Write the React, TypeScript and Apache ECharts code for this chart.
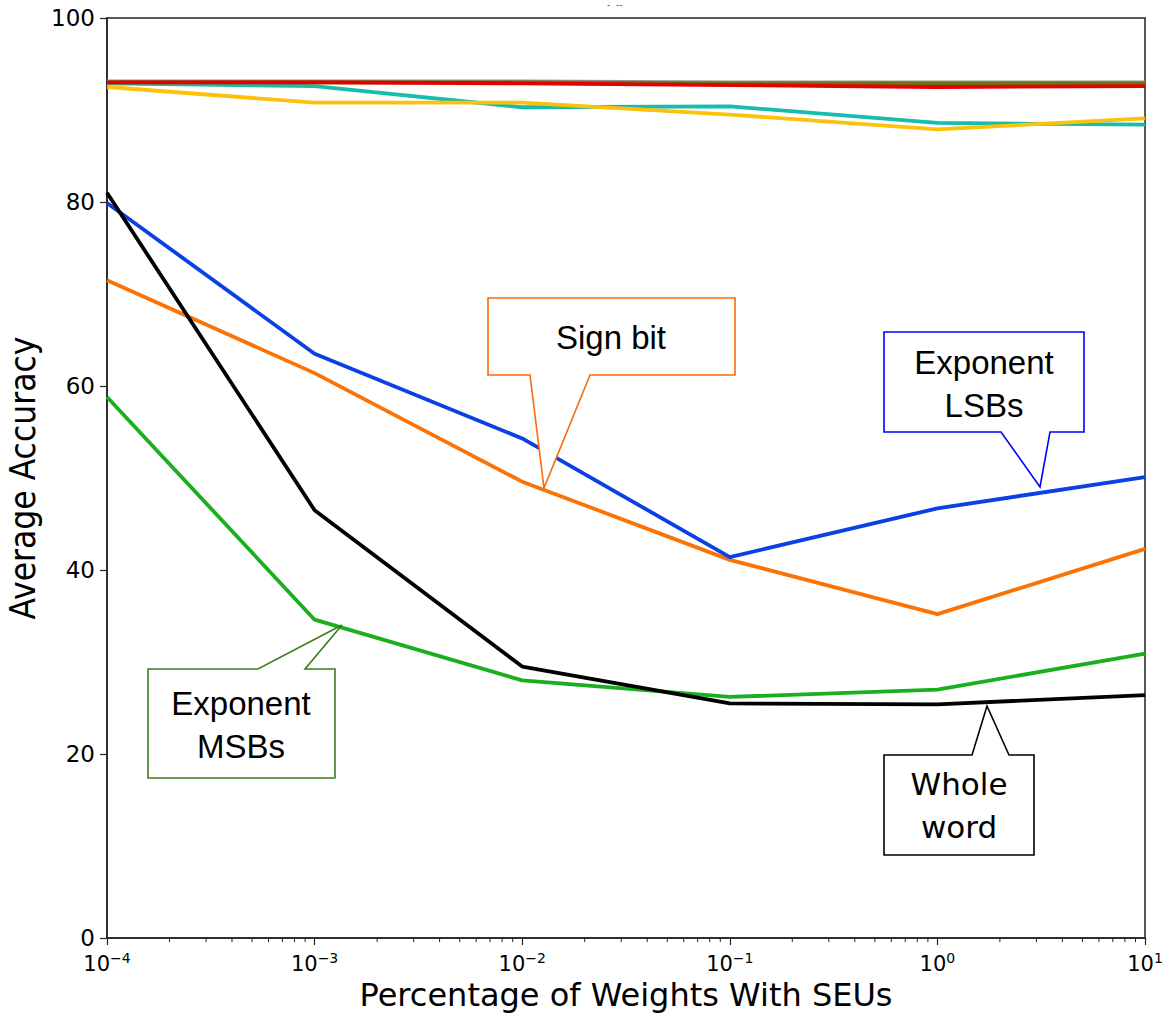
import React, { useEffect, useRef } from "react";
import * as echarts from "echarts";

const xValues = [1e-4, 1e-3, 1e-2, 1e-1, 1, 10];
const yTicks = [0, 20, 40, 60, 80, 100];

const wholeWord = [81.0, 46.5, 29.5, 25.5, 25.4, 26.4];
const exponentLSBs = [79.9, 63.5, 54.3, 41.4, 46.7, 50.1];
const signBit = [71.5, 61.4, 49.6, 41.1, 35.2, 42.3];
const exponentMSBs = [58.8, 34.6, 28.0, 26.2, 27.0, 30.9];
const mantissaA = [93.1, 93.1, 93.1, 93.0, 93.0, 93.0];
const mantissaB = [93.0, 93.0, 93.0, 92.9, 92.9, 92.9];
const mantissaC = [93.0, 93.0, 92.9, 92.7, 92.5, 92.6];
const mantissaD = [92.9, 92.6, 90.3, 90.4, 88.6, 88.4];
const mantissaE = [92.5, 90.8, 90.8, 89.5, 87.9, 89.1];

const minorTicks: number[] = [];
for (let d = -4; d <= 0; d++) {
  for (let k = 2; k <= 9; k++) minorTicks.push(k * Math.pow(10, d));
}

const calloutFont = "'Liberation Sans', Arial, sans-serif";

function App() {
  const ref = useRef<HTMLDivElement>(null);
  useEffect(() => {
    if (!ref.current) return;
    const chart = echarts.init(ref.current, undefined, { renderer: "svg" });
    const mk = (name: string, data: number[], color: string, z: number) => ({
      name,
      type: "line",
      data: xValues.map((x, i) => [x, data[i]]),
      showSymbol: false,
      symbol: "none",
      lineStyle: { color, width: 3.8 },
      z,
    });
    const box = (pts: number[][], color: string) => ({
      type: "polygon",
      shape: { points: pts },
      style: { fill: "#fff", stroke: color, lineWidth: 1.6 },
      z: 100,
    });
    const txt = (text: string, x: number, y: number, family = calloutFont, size = 33) => ({
      type: "text",
      x,
      y,
      style: {
        text,
        fill: "#000",
        fontSize: size,
        fontFamily: family,
        align: "center",
        verticalAlign: "middle",
      },
      z: 101,
    });
    chart.setOption({
      animation: false,
      backgroundColor: "#fff",
      grid: {
        left: 107,
        right: 20,
        top: 18,
        bottom: 75,
        containLabel: false,
        outerBoundsMode: "none",
        show: true,
        borderColor: "#222",
        borderWidth: 1.5,
        backgroundColor: "transparent",
      },
      xAxis: {
        type: "log",
        logBase: 10,
        min: 1e-4,
        max: 10,
        splitNumber: 5,
        name: "Percentage of Weights With SEUs",
        nameLocation: "middle",
        nameGap: 38,
        nameTextStyle: {
          fontSize: 32,
          fontFamily: "'DejaVu Sans', sans-serif",
          color: "#000",
        },
        axisLine: { lineStyle: { color: "#222", width: 1.5 } },
        axisTick: { show: true, inside: false, length: 7, lineStyle: { color: "#222", width: 1.2 } },
        splitLine: { show: false },
        axisLabel: {
          margin: 13,
          formatter: (v: number) => {
            const e = Math.round(Math.log10(v));
            return `{b|10}{s|${e < 0 ? "\u2212" + -e : e}}`;
          },
          rich: {
            b: { fontSize: 21, fontFamily: "'DejaVu Sans', sans-serif", color: "#000" },
            s: {
              fontSize: 14,
              fontFamily: "'DejaVu Sans', sans-serif",
              color: "#000",
              padding: [0, 0, 11, 0],
            },
          },
        },
      },
      yAxis: {
        type: "value",
        min: 0,
        max: 100,
        interval: 20,
        name: "Average Accuracy",
        nameLocation: "middle",
        nameGap: 60,
        nameTextStyle: {
          fontSize: 35,
          fontFamily: "'DejaVu Sans Condensed', 'DejaVu Sans', sans-serif",
          color: "#000",
        },
        axisLine: { show: true, lineStyle: { color: "#222", width: 1.5 } },
        axisTick: { show: true, inside: false, length: 7, lineStyle: { color: "#222", width: 1.2 } },
        splitLine: { show: false },
        axisLabel: {
          margin: 12,
          fontSize: 23,
          fontFamily: "'DejaVu Sans', sans-serif",
          color: "#000",
          formatter: (v: number) => (yTicks.includes(v) ? String(v) : ""),
        },
      },
      series: [
        mk("Mantissa D", mantissaD, "#17bcaa", 2),
        mk("Mantissa E", mantissaE, "#fdc10c", 3),
        mk("Mantissa A", mantissaA, "#929591", 4),
        mk("Mantissa B", mantissaB, "#6e750e", 5),
        mk("Mantissa C", mantissaC, "#e50000", 6),
        mk("Exponent MSBs", exponentMSBs, "#1aaf1f", 7),
        mk("Sign bit", signBit, "#f97306", 8),
        mk("Exponent LSBs", exponentLSBs, "#0a40e4", 9),
        mk("Whole word", wholeWord, "#000000", 10),
        {
          type: "custom",
          name: "minor ticks",
          data: minorTicks.map((v) => [v, 0]),
          clip: false,
          silent: true,
          z: 20,
          renderItem: (params: any, api: any) => {
            const p = api.coord([api.value(0), 0]);
            return {
              type: "line",
              shape: { x1: p[0], y1: p[1], x2: p[0], y2: p[1] + 4 },
              style: { stroke: "#222", lineWidth: 1 },
            };
          },
        },
      ],
      graphic: [
        {
          type: "text",
          x: 607,
          y: 0,
          style: { text: "-  --", fontSize: 9, fill: "#444", fontFamily: "'DejaVu Sans'" },
        },
        box(
          [
            [488, 298],
            [735, 298],
            [735, 375],
            [590, 375],
            [544, 488],
            [530, 375],
            [488, 375],
          ],
          "#fa6a0a"
        ),
        txt("Sign bit", 611, 337),
        box(
          [
            [884, 332],
            [1084, 332],
            [1084, 432],
            [1050, 432],
            [1040, 487],
            [1001, 432],
            [884, 432],
          ],
          "#0000ff"
        ),
        txt("Exponent", 984, 362),
        txt("LSBs", 984, 405),
        box(
          [
            [148, 669],
            [258, 669],
            [342, 625],
            [305, 669],
            [335, 669],
            [335, 778],
            [148, 778],
          ],
          "#3b7d23"
        ),
        txt("Exponent", 241, 703),
        txt("MSBs", 241, 746),
        box(
          [
            [884, 755],
            [972, 755],
            [987, 706],
            [1009, 755],
            [1034, 755],
            [1034, 855],
            [884, 855],
          ],
          "#000000"
        ),
        txt("Whole", 959, 784, "'DejaVu Sans', sans-serif", 31),
        txt("word", 959, 827, "'DejaVu Sans', sans-serif", 31),
      ],
    });
    return () => chart.dispose();
  }, []);
  return (
    <div
      ref={ref}
      style={{ position: "fixed", left: 0, top: 0, width: 1165, height: 1013, background: "#fff" }}
    />
  );
}

export default App;
